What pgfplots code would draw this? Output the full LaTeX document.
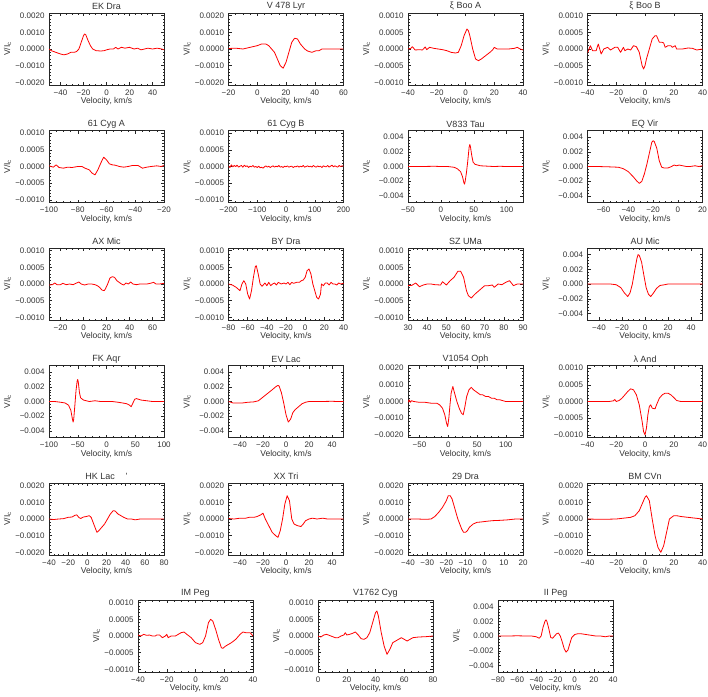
\documentclass[border=0pt]{standalone}
\usepackage{fontspec}
\setmainfont{Liberation Sans}
\usepackage{pgfplots}
\pgfplotsset{compat=1.18}

\pgfplotsset{
  panel/.style={scale only axis, width=115pt, height=72pt, anchor=north west,
    axis line style={line width=0.9pt, black!85},
    tick align=inside, major tick length=3pt, minor tick length=1.5pt,
    every tick/.style={black!85, line width=0.4pt},
    minor x tick num=3, minor y tick num=4,
    scaled x ticks=false, scaled y ticks=false,
    tick label style={font=\fontsize{8}{9}\selectfont, text=black!80},
    label style={font=\fontsize{8.5}{9}\selectfont, text=black!80},
    title style={font=\fontsize{9}{10}\selectfont, text=black!80,
      at={(axis description cs:0.5,1)}, anchor=center, yshift=0.5pt},
    xlabel={Velocity, km/s}, ylabel={V/I\textsubscript{c}},
    xlabel style={at={(axis description cs:0.5,0)}, anchor=center, yshift=-16.5pt},
    ylabel style={at={(axis description cs:-0.36,0.5)}, anchor=center},
    xticklabel style={anchor=center, yshift=-7.5pt},
    yticklabel style={anchor=east, xshift=-1pt}},
  curve/.style={red, line width=0.8pt, line join=round},
  yA/.style={ymin=-0.00216, ymax=0.00216, ytick={-0.002,-0.001,0,0.001,0.002},
    yticklabels={−0.0020,−0.0010,0.0000,0.0010,0.0020}},
  yB/.style={ymin=-0.00108, ymax=0.00108, ytick={-0.001,-0.0005,0,0.0005,0.001},
    yticklabels={−0.0010,−0.0005,0.0000,0.0005,0.0010}},
  yC/.style={ymin=-0.0049, ymax=0.0049, ytick={-0.004,-0.002,0,0.002,0.004},
    yticklabels={−0.004,−0.002,0.000,0.002,0.004}},
  x40/.style={xmin=-40, xmax=40, xtick={-40,-20,0,20,40}, xticklabels={−40,−20,0,20,40}},
  x50/.style={xmin=-50, xmax=50, xtick={-40,-20,0,20,40}, xticklabels={−40,−20,0,20,40}},
}

\begin{document}
\begin{tikzpicture}
\path[use as bounding box] (0,0) rectangle (708pt,-696pt);

% ---- row 1
\begin{axis}[panel, yA, x50, at={(49pt,-13pt)}, title={EK Dra}]
\addplot[curve] coordinates {(-50,0.0000) (-48,-0.0001) (-44,-0.0002) (-40,-0.0003) (-37,-0.00035) (-34,-0.0003) (-31,-0.0002) (-28,-0.0002) (-26,-0.00015) (-24,0.0000) (-22,0.0004) (-20,0.0008) (-19,0.0009) (-18,0.00085) (-16,0.0005) (-14,0.0002) (-12,0.0000) (-9,-0.0001) (-5,-0.00012) (-2,-0.0001) (0,-0.00005) (3,0.0) (6,0.0) (8,0.0001) (10,0.0) (13,0.0001) (16,0.00005) (20,0.0001) (24,0.0) (27,0.00005) (30,-0.00005) (33,0.0) (36,0.00005) (40,0.0) (44,0.00005) (48,0.0) (50,-0.00005)};
\end{axis}

\begin{axis}[panel, yA, at={(228.5pt,-13pt)}, title={V 478 Lyr},
  xmin=-20, xmax=60, xtick={-20,0,20,40,60}, xticklabels={−20,0,20,40,60}]
\addplot[curve] coordinates {(-20,0.00003) (-15,0.00005) (-10,0.0) (-5,0.0001) (0,0.0002) (3,0.0003) (6,0.0003) (8,0.0002) (10,0.0) (12,-0.0002) (14,-0.0006) (16,-0.001) (18,-0.00115) (20,-0.0008) (22,-0.0002) (24,0.0004) (26,0.00065) (28,0.0006) (30,0.0003) (33,0.0) (35,-0.00012) (38,-0.0002) (41,-0.0001) (43,-0.0001) (45,0.0) (50,0.0) (55,0.0) (60,0.0)};
\end{axis}

\begin{axis}[panel, yB, x40, at={(408pt,-13pt)}, title={ξ Boo A}]
\addplot[curve] coordinates {(-40,0.0) (-38,0.00002) (-37,0.00007) (-35,-0.00003) (-32,-0.00002) (-30,-0.00003) (-28,0.00006) (-27,-0.00002) (-25,0.00005) (-22,0.00002) (-19,0.0) (-16,-0.00002) (-13,-0.00005) (-10,-0.0001) (-7,-0.00012) (-5,-0.0001) (-3,0.0001) (-1,0.0004) (1,0.0006) (2,0.00055) (3,0.0004) (5,0.0) (7,-0.0003) (9,-0.00035) (11,-0.0003) (14,-0.0002) (17,-0.0001) (19,-0.00002) (20,0.00005) (22,0.0) (26,0.0) (30,0.0) (34,0.00002) (36,0.00005) (38,0.0) (40,-0.00003)};
\end{axis}

\begin{axis}[panel, yB, x40, at={(587.5pt,-13pt)}, title={ξ Boo B}]
\addplot[curve] coordinates {(-40,-0.00012) (-38,0.0001) (-36.5,-0.00005) (-34,-0.00005) (-32.5,0.00015) (-30.5,-0.00015) (-28.7,0.0) (-26,0.00005) (-24,-0.00003) (-21,0.00005) (-19,0.00005) (-17,-0.0001) (-15,0.00005) (-14,-0.00005) (-12,0.0) (-10,-0.00003) (-8,0.0001) (-6,0.00007) (-4,-0.0001) (-3,-0.0003) (-2,-0.0005) (-1,-0.0006) (0,-0.0005) (1,-0.0003) (3,0.0) (5,0.0003) (7,0.0004) (8,0.0004) (9,0.0003) (10,0.0002) (12,0.0002) (13,0.00018) (14,0.00005) (16,0.0001) (18,0.0001) (19,0.00005) (21,0.0001) (22,0.0) (26,0.0) (30,0.00003) (33,0.00002) (36,-0.00003) (40,0.0)};
\end{axis}

% ---- row 2
\begin{axis}[panel, yB, at={(49pt,-130.5pt)}, title={61 Cyg A},
  xmin=-100, xmax=-20, xtick={-100,-80,-60,-40,-20}, xticklabels={−100,−80,−60,−40,−20}]
\addplot[curve] coordinates {(-100,0.00002) (-97,-0.00002) (-95,0.00005) (-93,-0.00003) (-90,-0.00005) (-87,-0.00002) (-84,-0.00003) (-80,0.0) (-77,0.0) (-75,-0.00005) (-72,-0.0001) (-70,-0.0002) (-68,-0.00025) (-66,-0.0001) (-64,0.0001) (-62,0.00028) (-60,0.0002) (-58,0.00008) (-56,0.00005) (-54,0.00004) (-51,0.0) (-48,-0.00002) (-45,0.0) (-42,0.00003) (-38,0.00003) (-35,-0.00005) (-32,-0.00002) (-29,0.0) (-25,0.00002) (-22,0.0) (-20,0.00003)};
\end{axis}

\begin{axis}[panel, yB, at={(228.5pt,-130.5pt)}, title={61 Cyg B},
  xmin=-200, xmax=200, xtick={-200,-100,0,100,200}, xticklabels={−200,−100,0,100,200}]
\addplot[curve] coordinates {(-200,0.00002) (-195,-0.00003) (-190,0.00005) (-185,-0.00001) (-180,0.00003) (-175,0.0) (-170,0.00004) (-165,-0.00002) (-160,0.00001) (-155,0.00003) (-150,-0.00002) (-145,0.00004) (-140,0.0) (-135,0.00002) (-130,-0.00003) (-125,0.00001) (-120,-0.00001) (-115,0.00003) (-110,-0.00002) (-105,0.0) (-100,-0.00003) (-95,0.00001) (-90,-0.00004) (-85,-0.00002) (-80,-0.00005) (-75,-0.00001) (-70,0.00002) (-65,-0.00002) (-60,0.00001) (-55,-0.00003) (-50,0.0) (-45,0.00002) (-40,-0.00002) (-35,0.00001) (-30,-0.00001) (-25,0.00003) (-20,-0.00002) (-15,0.0) (-10,-0.00003) (-5,0.00001) (0,-0.00001) (5,0.00002) (10,-0.00002) (15,0.0) (20,0.00001) (25,-0.00003) (30,0.0) (35,-0.00001) (40,0.00002) (45,-0.00002) (50,0.00001) (55,-0.00001) (60,0.00003) (65,-0.00002) (70,0.0) (75,0.00002) (80,-0.00001) (85,0.00001) (90,-0.00002) (95,0.00003) (100,0.0) (105,-0.00002) (110,0.00002) (115,-0.00001) (120,0.00001) (125,-0.00003) (130,0.00002) (135,0.0) (140,-0.00001) (145,0.00003) (150,-0.00002) (155,0.00001) (160,0.00004) (165,-0.00001) (170,0.00002) (175,0.0) (180,-0.00002) (185,0.00003) (190,0.0) (195,0.00002) (200,0.00001)};
\end{axis}

\begin{axis}[panel, yC, at={(408pt,-130.5pt)}, title={V833 Tau},
  xmin=-50, xmax=125, xtick={-50,0,50,100}, xticklabels={−50,0,50,100}]
\addplot[curve] coordinates {(-50,0.0) (-30,0.0) (-10,0.00003) (0,0.0) (10,0.0) (15,-0.00005) (20,-0.0001) (25,-0.0003) (30,-0.0007) (33,-0.0014) (35,-0.0022) (36,-0.0024) (37,-0.002) (39,-0.0008) (41,0.0008) (43,0.0026) (44,0.003) (45,0.0027) (47,0.0015) (49,0.0006) (52,0.0003) (56,0.0002) (60,0.0001) (70,0.00005) (80,0.0) (90,0.00003) (100,0.0) (110,0.0) (125,0.0)};
\end{axis}

\begin{axis}[panel, yC, at={(587.5pt,-130.5pt)}, title={EQ Vir},
  xmin=-73, xmax=20, xtick={-60,-40,-20,0,20}, xticklabels={−60,−40,−20,0,20}]
\addplot[curve] coordinates {(-73,0.0) (-65,0.0) (-55,-0.00005) (-48,-0.0001) (-44,-0.0003) (-40,-0.0007) (-36,-0.0014) (-33,-0.002) (-31,-0.0023) (-29,-0.002) (-27,-0.001) (-25,0.0003) (-23,0.0018) (-21,0.0033) (-20,0.0035) (-19,0.0034) (-17,0.0025) (-15,0.0008) (-13,-0.0001) (-11,-0.0002) (-8,-0.0002) (-5,0.0) (-3,0.0002) (-1,0.0001) (1,0.0002) (4,0.0001) (7,0.0) (10,0.0) (14,0.0001) (17,0.0) (20,0.0001)};
\end{axis}

% ---- row 3
\begin{axis}[panel, yB, at={(49pt,-248pt)}, title={AX Mic},
  xmin=-30, xmax=70, xtick={-20,0,20,40,60}, xticklabels={−20,0,20,40,60}]
\addplot[curve] coordinates {(-30,-0.00003) (-27,-0.00002) (-25,0.00003) (-23,-0.00002) (-20,-0.00002) (-18,0.00002) (-15,-0.00002) (-12,0.0) (-9,-0.00002) (-6,0.00003) (-4,0.00006) (-2,0.0) (1,-0.00003) (4,0.0) (7,0.0) (10,-0.00002) (12,-0.00005) (14,-0.0001) (16,-0.00018) (18,-0.0002) (19,-0.00015) (21,0.0) (23,0.00018) (25,0.00022) (27,0.0002) (29,0.0001) (31,0.00005) (33,0.0) (35,-0.00003) (37,0.00003) (39,0.0) (41,0.00006) (43,0.0) (46,-0.00002) (49,0.0) (52,0.0) (55,0.0) (58,0.00002) (61,0.00005) (63,0.0) (66,0.0) (70,0.00002)};
\end{axis}

\begin{axis}[panel, yB, at={(228.5pt,-248pt)}, title={BY Dra},
  xmin=-80, xmax=40, xtick={-80,-60,-40,-20,0,20,40}, xticklabels={−80,−60,−40,−20,0,20,40}]
\addplot[curve] coordinates {(-80,0.0) (-76,-0.00003) (-72,-0.0001) (-68,-0.0002) (-66,0.0) (-64,0.0001) (-62,0.0) (-60,-0.0003) (-58,-0.00045) (-56,-0.0002) (-54,0.0002) (-52,0.00052) (-51,0.00055) (-49,0.0003) (-47,0.0) (-45,-0.00007) (-42,0.00003) (-40,-0.00005) (-38,0.00005) (-36,-0.00005) (-34,0.0) (-32,0.00003) (-30,-0.00003) (-28,0.00005) (-25,0.0) (-22,0.00003) (-20,0.0) (-18,0.00005) (-16,-0.00002) (-14,0.00005) (-12,0.00002) (-9,0.00005) (-6,0.00005) (-4,0.0001) (-2,0.00012) (0,0.0002) (2,0.0004) (4,0.00045) (6,0.0003) (8,0.0) (10,-0.0002) (12,-0.0004) (14,-0.00045) (16,-0.0003) (17,0.0) (19,-0.00005) (21,0.00003) (23,0.00003) (25,-0.00003) (27,0.00005) (29,0.0) (31,0.0) (33,-0.00003) (35,0.00003) (37,0.0) (40,0.00002)};
\end{axis}

\begin{axis}[panel, yB, at={(408pt,-248pt)}, title={SZ UMa},
  xmin=30, xmax=90, xtick={30,40,50,60,70,80,90}, xticklabels={30,40,50,60,70,80,90}]
\addplot[curve] coordinates {(30,-0.00005) (32,-0.00004) (34,0.00003) (36,-0.00008) (38,-0.00003) (40,0.0) (42,0.0) (44,-0.00002) (47,-0.00003) (48,0.00007) (50,-0.00003) (52,0.0001) (54,0.0002) (56,0.00038) (57.5,0.00038) (59,0.0002) (60.5,-0.0002) (61.5,-0.00035) (63,-0.00042) (65,-0.0003) (68,-0.00015) (70,-0.00005) (72,-0.00005) (74,-0.00003) (75,-0.0001) (77,0.0) (79,-0.00002) (81,0.00005) (83,0.0001) (85,-0.00005) (87,0.0) (90,0.0)};
\end{axis}

\begin{axis}[panel, yC, x50, at={(587.5pt,-248pt)}, title={AU Mic}]
\addplot[curve] coordinates {(-50,0.0) (-40,0.0) (-30,0.0) (-25,-0.0001) (-21,-0.0005) (-18,-0.0012) (-15,-0.0017) (-13,-0.0012) (-11,0.0) (-9,0.0018) (-7,0.0035) (-6,0.004) (-5,0.0039) (-3,0.003) (-1,0.0012) (1,-0.0005) (3,-0.0014) (5,-0.0017) (7,-0.0013) (10,-0.0006) (13,-0.0002) (17,-0.0001) (20,0.0) (25,0.0) (30,0.0) (40,0.0) (50,0.0)};
\end{axis}

% ---- row 4
\begin{axis}[panel, yC, at={(49pt,-365.5pt)}, title={FK Aqr},
  xmin=-100, xmax=100, xtick={-100,-50,0,50,100}, xticklabels={−100,−50,0,50,100}]
\addplot[curve] coordinates {(-100,0.0) (-90,0.0) (-80,-0.0001) (-72,-0.0002) (-66,-0.0005) (-62,-0.0012) (-59,-0.0025) (-58,-0.0028) (-57,-0.0024) (-55,-0.0005) (-53,0.0015) (-51,0.0028) (-50,0.003) (-49,0.0026) (-47,0.0012) (-45,0.0005) (-40,0.0002) (-35,0.0001) (-30,0.0) (-20,0.0001) (-10,0.0) (0,0.0) (10,0.0) (20,-0.0001) (28,-0.0002) (35,-0.0003) (40,-0.0005) (43,-0.0007) (46,-0.0002) (49,0.0003) (52,0.0004) (56,0.0003) (60,0.0002) (70,0.0001) (80,0.0) (90,0.0) (100,0.0)};
\end{axis}

\begin{axis}[panel, yC, x50, at={(228.5pt,-365.5pt)}, title={EV Lac}]
\addplot[curve] coordinates {(-50,0.0) (-46,-0.0002) (-42,-0.0002) (-38,-0.0002) (-33,-0.0001) (-28,-0.00005) (-24,0.0001) (-20,0.0006) (-16,0.0011) (-12,0.0016) (-9,0.002) (-7,0.0022) (-6,0.0021) (-4,0.0012) (-2,-0.0002) (0,-0.0018) (2,-0.0028) (4,-0.0024) (6,-0.0015) (8,-0.0011) (11,-0.0007) (14,-0.0003) (17,-0.0001) (20,0.0) (25,0.0) (30,0.0) (40,0.00003) (45,0.0) (50,0.0)};
\end{axis}

\begin{axis}[panel, yA, at={(408pt,-365.5pt)}, title={V1054 Oph},
  xmin=-70, xmax=130, xtick={-50,0,50,100}, xticklabels={−50,0,50,100}]
\addplot[curve] coordinates {(-70,-0.00005) (-68,0.0001) (-66,-0.00005) (-64,0.00005) (-60,0.0) (-50,-0.00005) (-40,-0.00005) (-30,-0.0001) (-20,-0.0001) (-15,-0.0002) (-10,-0.0004) (-6,-0.0008) (-3,-0.0013) (-1,-0.0015) (1,-0.001) (3,-0.0002) (5,0.0005) (8,0.0009) (11,0.0005) (15,0.0) (19,-0.0004) (23,-0.0007) (26,-0.0008) (29,-0.0003) (32,0.0003) (36,0.0007) (40,0.00085) (44,0.0007) (48,0.0006) (52,0.0005) (56,0.0004) (60,0.0004) (65,0.0003) (70,0.0003) (75,0.0002) (80,0.0002) (85,0.0001) (90,0.0001) (100,0.0) (110,0.0) (120,0.0) (130,0.0)};
\end{axis}

\begin{axis}[panel, yB, x40, at={(587.5pt,-365.5pt)}, title={λ And}]
\addplot[curve] coordinates {(-40,0.0) (-35,0.0) (-30,0.0) (-25,0.0) (-22,0.00002) (-21,0.00006) (-20,0.0) (-18,0.00003) (-16,0.0001) (-14,0.0002) (-12,0.0003) (-10,0.00038) (-8,0.00035) (-6,0.0002) (-4,-0.0001) (-2,-0.0006) (-1,-0.0009) (0,-0.001) (1,-0.0008) (2,-0.0004) (3,-0.00015) (4,-0.0001) (5,-0.0002) (7,-0.00022) (8,-0.0001) (10,0.0001) (12,0.0002) (14,0.00025) (16,0.00025) (18,0.0002) (20,0.00012) (22,0.00003) (25,0.0) (30,0.0) (35,0.0) (40,0.0)};
\end{axis}

% ---- row 5
\begin{axis}[panel, yA, at={(49pt,-483pt)}, title={HK Lac\hspace{1.2em}'},
  xmin=-40, xmax=80, xtick={-40,-20,0,20,40,60,80}, xticklabels={−40,−20,0,20,40,60,80}]
\addplot[curve] coordinates {(-40,0.0) (-35,-0.00003) (-30,0.0) (-25,0.00002) (-20,0.0001) (-16,0.00012) (-13,0.00022) (-11,0.00025) (-9,0.0001) (-7,0.00003) (-4,0.00012) (-1,0.00015) (2,0.0002) (4,0.0001) (6,-0.0002) (8,-0.0005) (10,-0.0008) (12,-0.0007) (15,-0.0005) (18,-0.0003) (21,0.0) (24,0.0003) (27,0.0005) (29,0.00048) (32,0.0003) (35,0.0002) (38,0.0001) (42,0.0) (46,0.0) (50,-0.00005) (55,0.0) (60,0.0) (65,0.0) (70,0.0) (75,0.0) (80,0.0)};
\end{axis}

\begin{axis}[panel, yA, x50, at={(228.5pt,-483pt)}, title={XX Tri}]
\addplot[curve] coordinates {(-50,0.00003) (-45,0.0) (-40,0.00005) (-35,0.00005) (-32,0.0001) (-28,0.0001) (-25,0.00015) (-22,0.00025) (-20,0.00035) (-18,0.0) (-15,-0.0004) (-12,-0.0008) (-9,-0.001) (-7,-0.0011) (-5,-0.0007) (-3,0.0) (-1,0.0009) (1,0.0014) (3,0.0011) (5,0.0) (7,-0.0003) (10,-0.0004) (13,-0.00045) (15,-0.0003) (17,-0.0001) (20,0.0) (23,0.00005) (27,0.0) (32,0.00005) (36,0.0) (40,0.0) (45,0.0) (50,0.0)};
\end{axis}

\begin{axis}[panel, yA, at={(408pt,-483pt)}, title={29 Dra},
  xmin=-40, xmax=20, xtick={-40,-30,-20,-10,0,10,20}, xticklabels={−40,−30,−20,−10,0,10,20}]
\addplot[curve] coordinates {(-40,0.0) (-35,0.0) (-31,-0.00002) (-28,0.0) (-26,0.00015) (-24,0.0004) (-22,0.0007) (-20,0.0011) (-19,0.0014) (-18,0.0014) (-17,0.0012) (-16,0.0008) (-15,0.0004) (-14,0.0) (-13,-0.0003) (-12,-0.0006) (-11,-0.0008) (-10,-0.0008) (-9,-0.0007) (-8,-0.0005) (-6,-0.0003) (-4,-0.0002) (-2,-0.00018) (0,-0.00015) (4,-0.0001) (8,-0.00008) (12,-0.00005) (16,0.0) (20,0.0)};
\end{axis}

\begin{axis}[panel, yA, x40, at={(587.5pt,-483pt)}, title={BM CVn}]
\addplot[curve] coordinates {(-40,0.0) (-30,-0.00002) (-20,0.0) (-10,0.0001) (-7,0.0002) (-4,0.0005) (-2,0.0009) (0,0.0013) (1,0.0014) (3,0.0011) (5,0.0) (7,-0.001) (9,-0.0017) (11,-0.002) (13,-0.0016) (15,-0.0008) (17,0.0) (20,0.0002) (22,0.0002) (25,0.00015) (30,0.0001) (35,0.00005) (40,0.0)};
\end{axis}

% ---- row 6
\begin{axis}[panel, yB, x40, at={(138pt,-600pt)}, title={IM Peg}]
\addplot[curve] coordinates {(-40,0.00003) (-38,0.0) (-36,0.00005) (-34,0.00002) (-32,0.00003) (-30,0.0) (-28,0.0) (-27,0.00003) (-25,0.00003) (-23,-0.00005) (-21,0.0) (-20,0.00005) (-19,-0.00005) (-17,0.0) (-14,0.0) (-12,0.00005) (-10,0.0001) (-8,0.00012) (-6,0.00005) (-3,-0.00005) (0,-0.0002) (3,-0.00025) (5,-0.0002) (7,0.0) (9,0.0004) (10.5,0.0005) (12,0.00045) (14,0.0002) (16,-0.0001) (18,-0.00035) (19,-0.00037) (21,-0.0003) (25,-0.0002) (28,-0.0001) (31,0.00005) (33,0.00012) (35,0.0001) (38,0.0001) (40,0.0)};
\end{axis}

\begin{axis}[panel, yB, at={(318pt,-600pt)}, title={V1762 Cyg},
  xmin=0, xmax=80, xtick={0,20,40,60,80}, xticklabels={0,20,40,60,80}]
\addplot[curve] coordinates {(0,0.0) (2,-0.00003) (4,0.00003) (6,0.00005) (9,0.0) (12,-0.00005) (14,-0.00005) (16,0.0) (18,0.00003) (19,0.0001) (20,0.00003) (22,0.00005) (24,0.00008) (26,0.00012) (28,0.00003) (30,-0.00008) (32,-0.0001) (34,-0.00005) (36,0.0001) (38,0.0004) (40,0.0007) (41,0.00075) (42,0.0006) (44,0.0001) (46,-0.0003) (48,-0.00055) (50,-0.0004) (52,-0.0002) (54,-0.00015) (56,-0.0001) (58,-0.00005) (60,-0.0001) (62,-0.00015) (64,-0.0001) (66,-0.00005) (70,-0.00003) (75,-0.00002) (80,0.0)};
\end{axis}

\begin{axis}[panel, yC, at={(498pt,-600pt)}, title={II Peg},
  xmin=-80, xmax=40, xtick={-80,-60,-40,-20,0,20,40}, xticklabels={−80,−60,−40,−20,0,20,40}]
\addplot[curve] coordinates {(-80,0.0) (-70,0.0) (-60,0.00003) (-50,0.0) (-45,0.0) (-40,-0.0001) (-37,-0.0003) (-35,0.0) (-33,0.0012) (-31,0.002) (-30,0.0022) (-29,0.002) (-27,0.001) (-25,-0.0002) (-23,-0.0003) (-21,0.0) (-19,0.0003) (-17,0.0004) (-15,0.0) (-13,-0.0008) (-11,-0.0017) (-9,-0.0022) (-7,-0.0019) (-5,-0.001) (-3,-0.0002) (0,0.0002) (3,0.0003) (7,0.0003) (12,0.0002) (17,0.0001) (22,0.0) (27,0.0) (32,-0.0001) (36,0.0) (40,0.0)};
\end{axis}
\end{tikzpicture}
\end{document}
